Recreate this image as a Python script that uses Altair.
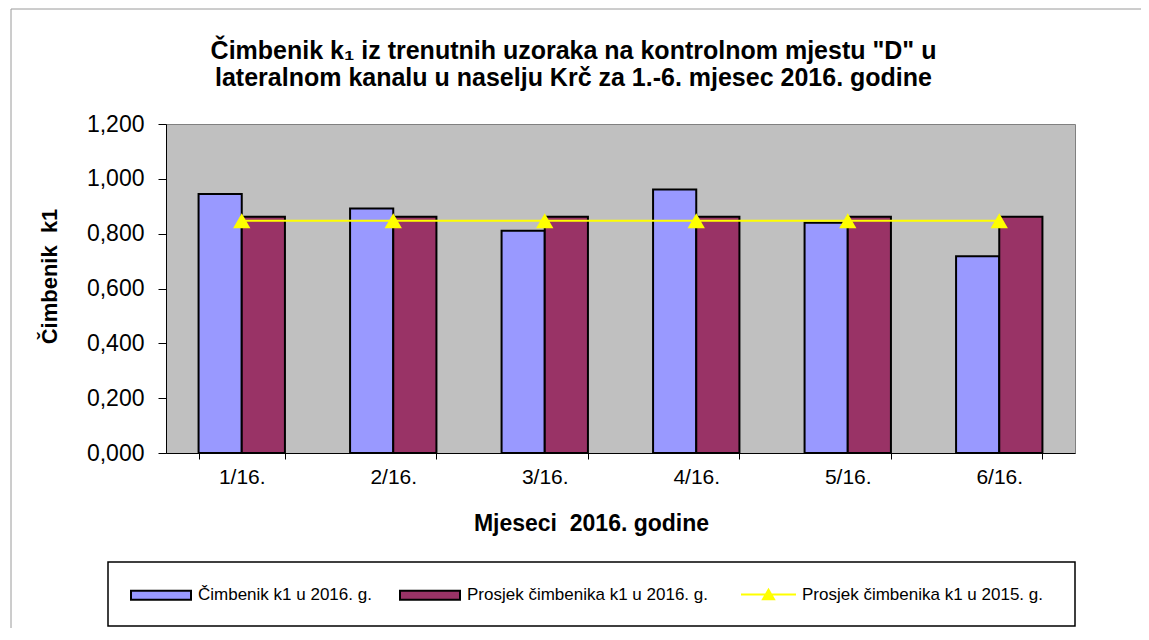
import altair as alt
import pandas as pd

FONT = "Liberation Sans"

months = ["1/16.", "2/16.", "3/16.", "4/16.", "5/16.", "6/16."]
k1_2016 = [0.945, 0.892, 0.811, 0.961, 0.840, 0.718]
avg_2016 = [0.862, 0.862, 0.862, 0.862, 0.862, 0.862]
avg_2015 = [0.847, 0.847, 0.847, 0.847, 0.847, 0.847]

S1 = "Čimbenik k1 u 2016. g."
S2 = "Prosjek čimbenika k1 u 2016. g."
S3 = "Prosjek čimbenika k1 u 2015. g."

title_lines = ['Čimbenik k₁ iz trenutnih uzoraka na kontrolnom mjestu "D" u',
               "lateralnom kanalu u naselju Krč za 1.-6. mjesec 2016. godine"]
x_title = "Mjeseci\u00a0 2016. godine"
y_title = "Čimbenik\u00a0 k1"

bars_df = pd.DataFrame(
    [{"month": m, "series": S1, "value": v} for m, v in zip(months, k1_2016)]
    + [{"month": m, "series": S2, "value": v} for m, v in zip(months, avg_2016)]
)
line_df = pd.DataFrame({"month": months, "series": S3, "value": avg_2015})
one = pd.DataFrame({"a": [0]})

x_enc = alt.X(
    "month:N", sort=months,
    scale=alt.Scale(paddingInner=0.43, paddingOuter=0.215),
    axis=alt.Axis(
        title=x_title, labelAngle=0, tickBand="extent", tickSize=6,
        labelFontSize=21, labelPadding=7, labelFont=FONT, labelColor="black",
        titleFont=FONT, titleFontSize=23, titleFontWeight="bold", titleColor="black",
        titleX=425, titleY=70, titleBaseline="middle", titleAlign="center",
        domainColor="black", tickColor="black",
    ),
)
y_enc = alt.Y(
    "value:Q",
    scale=alt.Scale(domain=[0, 1.2], nice=False),
    axis=alt.Axis(
        title=y_title, values=[0, 0.2, 0.4, 0.6, 0.8, 1.0, 1.2], grid=False,
        labelExpr="replace(format(datum.value, '.3f'), '.', ',')",
        labelFontSize=23, labelFont=FONT, labelColor="black", labelPadding=14, tickSize=8,
        titleFont=FONT, titleFontSize=22, titleFontWeight="bold", titleColor="black",
        titleAngle=270, titleX=-117, titleY=152, titleAlign="center", titleBaseline="middle",
        domainColor="black", tickColor="black",
    ),
)

frame_top = alt.Chart(one).mark_rule(color="#9a9a9a", strokeWidth=1).encode(
    x=alt.value(-155), x2=alt.value(980), y=alt.value(-115)
)
frame_left = alt.Chart(one).mark_rule(color="#9a9a9a", strokeWidth=1).encode(
    x=alt.value(-155), y=alt.value(-115), y2=alt.value(510)
)

bars = alt.Chart(bars_df).mark_bar(stroke="black", strokeWidth=2).encode(
    x=x_enc,
    xOffset=alt.XOffset("series:N", sort=[S1, S2]),
    y=y_enc,
    fill=alt.Fill(
        "series:N",
        scale=alt.Scale(domain=[S1, S2], range=["#9999FF", "#993366"]),
        legend=alt.Legend(
            title=None, orient="none", direction="horizontal",
            legendX=-36, legendY=440, padding=0,
            symbolType="M-1,-0.15H1V0.15H-1Z", symbolSize=3600,
            symbolStrokeColor="black", symbolStrokeWidth=2,
            labelFont=FONT, labelFontSize=17, labelColor="black",
            labelOffset=6, columnPadding=24, labelLimit=400,
        ),
    ),
)

line = alt.Chart(line_df).mark_line(strokeWidth=2).encode(
    x=alt.X("month:N", sort=months),
    y="value:Q",
    stroke=alt.Stroke(
        "series:N",
        scale=alt.Scale(domain=[S3], range=["#FFFF00"]),
        legend=alt.Legend(
            title=None, orient="none", direction="horizontal",
            legendX=574, legendY=442, padding=0,
            symbolType="M-1,0H1M-0.2,0.17L0,-0.17L0.2,0.17Z", symbolSize=3025,
            symbolFillColor="#FFFF00", symbolStrokeWidth=2,
            labelFont=FONT, labelFontSize=17, labelColor="black",
            labelOffset=5, labelLimit=400,
        ),
    ),
)

points = alt.Chart(line_df).mark_point(
    shape="triangle-up", filled=True, size=300, color="#FFFF00", opacity=1
).encode(x=alt.X("month:N", sort=months), y="value:Q")

legend_box = alt.Chart(one).mark_rect(
    fill="white", fillOpacity=0, stroke="black", strokeWidth=1.5
).encode(x=alt.value(-58), x2=alt.value(909), y=alt.value(438), y2=alt.value(502))

chart = alt.layer(frame_top, frame_left, bars, line, points, legend_box).resolve_scale(
    fill="independent", stroke="independent"
).properties(
    width=909,
    height=329,
    background="white",
    autosize=alt.AutoSizeParams(type="none"),
    padding={"left": 158, "top": 116, "right": 66, "bottom": 175},
    title=alt.TitleParams(
        text=title_lines, font=FONT, fontSize=25, fontWeight="bold", color="black",
        anchor="middle", frame="group", dx=-47, offset=-82, lineHeight=27,
    ),
).configure_view(
    fill="#C0C0C0", stroke="#808080", strokeWidth=1
)

chart.save("out.html", embed_options={"renderer": "svg", "actions": False})
